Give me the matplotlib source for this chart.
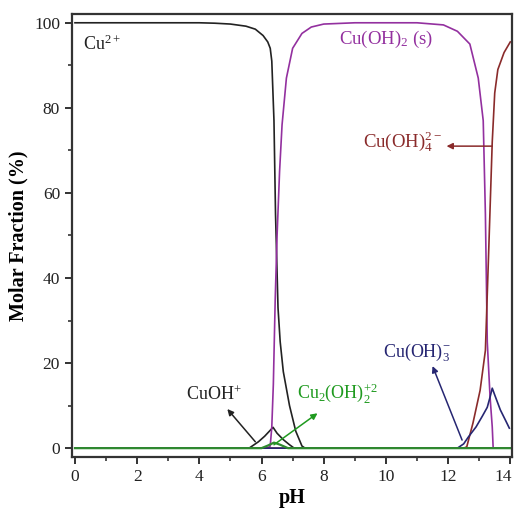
import matplotlib.pyplot as plt
import matplotlib.transforms as mtransforms
import numpy as np

plt.rcParams["font.family"] = ["Liberation Serif", "DejaVu Serif"]
plt.rcParams["mathtext.fontset"] = "custom"
plt.rcParams["mathtext.rm"] = "Liberation Serif"
plt.rcParams["mathtext.it"] = "Liberation Serif:italic"
plt.rcParams["mathtext.bf"] = "Liberation Serif:bold"

# values (pH, molar fraction %)
cu_ph = [0, 4.0, 4.5, 5.0, 5.5, 5.8, 6.05, 6.2, 6.28, 6.33, 6.36,
         6.4, 6.45, 6.53, 6.6, 6.7, 6.9, 7.1, 7.3, 7.4, 14]
cu_val = [100, 100, 99.9, 99.7, 99.2, 98.5, 97, 95.5, 94, 91, 85,
          77, 55, 33, 25, 18, 10, 4, 0.5, 0, 0]

cuoh_ph = [0, 5.6, 5.9, 6.1, 6.37, 6.5, 6.7, 6.9, 7.05, 14]
cuoh_val = [0, 0, 1.5, 2.8, 4.9, 3.5, 2.0, 0.8, 0, 0]

cu2oh2_ph = [0, 6.0, 6.2, 6.4, 6.6, 6.85, 14]
cu2oh2_val = [0, 0, 0.6, 1.3, 0.8, 0, 0]

cuoh2_ph = [0, 6.2, 6.28, 6.33, 6.38, 6.44, 6.5, 6.58, 6.66, 6.8,
            7.0, 7.3, 7.6, 8.0, 9.0, 11.0, 11.85, 12.3, 12.7, 12.97,
            13.13, 13.2, 13.26, 13.35, 13.42, 13.45, 14]
cuoh2_val = [0, 0, 0.5, 5, 15, 35, 50, 65, 76, 87,
             94, 97.5, 99, 99.7, 100, 100, 99.5, 98, 95, 87,
             77, 55, 25, 12, 5, 0, 0]

cuoh3_ph = [0, 12.3, 12.5, 12.65, 12.9, 13.1, 13.26, 13.35, 13.42,
            13.5, 13.68, 13.85, 13.97]
cuoh3_val = [0, 0, 1.0, 2.6, 5.0, 7.5, 9.6, 12, 14.1,
             12.5, 9.0, 6.5, 4.7]

cuoh4_ph = [0, 12.5, 12.6, 12.8, 13.03, 13.2, 13.3, 13.42, 13.5,
            13.6, 13.8, 14.0]
cuoh4_val = [0, 0, 0.3, 5.9, 13.6, 23, 45, 72, 83.5,
             89, 93, 95.5]

black = "#222222"
purple = "#93309f"
brown = "#8a2b2b"
navy = "#262672"
green = "#2f8a2f"
green_txt = "#1f9a1f"

fig = plt.figure(figsize=(5.17, 5.13), dpi=100)
ax = fig.add_axes([0.139, 0.109, 0.851, 0.864])

ax.plot(cu_ph, cu_val, color=black, linewidth=1.2)
ax.plot(cuoh_ph, cuoh_val, color=black, linewidth=1.2)
ax.plot(cuoh2_ph, cuoh2_val, color=purple, linewidth=1.2)
ax.plot(cuoh4_ph, cuoh4_val, color=brown, linewidth=1.2)
ax.plot(cuoh3_ph, cuoh3_val, color=navy, linewidth=1.2)
ax.plot(cu2oh2_ph, cu2oh2_val, color=green, linewidth=1.6)

ax.set_xlim(-0.1, 14.05)
ax.set_ylim(-2.1, 102.1)
ax.set_xticks(np.arange(0, 15, 2))
ax.set_xticks(np.arange(1, 14, 2), minor=True)
ax.set_yticks(np.arange(0, 101, 20))
ax.set_yticks(np.arange(10, 100, 20), minor=True)
ax.tick_params(which="major", direction="out", length=5, width=1.3,
               labelsize=12.5, colors="#222222")
ax.tick_params(which="minor", direction="out", length=3, width=1.1,
               colors="#222222")
for s in ax.spines.values():
    s.set_linewidth(1.6)
    s.set_color("#333333")

# last x label sits on the figure edge, nudge it in a little
last = ax.get_xticklabels()[-1]
last.set_transform(last.get_transform() + mtransforms.ScaledTranslation(
    -0.07, 0, fig.dpi_scale_trans))

ax.set_xlabel("pH", fontsize=14.5, fontweight="bold", labelpad=2)
ax.set_ylabel("Molar Fraction (%)", fontsize=14.5, fontweight="bold",
              labelpad=4)

arrow = dict(lw=1.1, mutation_scale=9, shrinkA=0, shrinkB=0)

# species labels
ax.text(0.25, 95, r"Cu$^{2+}$", fontsize=13, color=black,
        ha="left", va="center")
ax.text(10.0, 96, r"Cu(OH)$_2$ (s)", fontsize=13.5, color=purple,
        ha="center", va="center")

ax.text(11.8, 72, r"Cu(OH)$_4^{2-}$", fontsize=13.5, color=brown,
        ha="right", va="center")
ax.annotate("", xy=(11.95, 71), xytext=(13.42, 71),
            arrowprops=dict(arrowstyle="-|>", color=brown, **arrow))

ax.text(4.48, 12.5, r"CuOH$^{+}$", fontsize=13, color=black,
        ha="center", va="center")
ax.annotate("", xy=(4.9, 9.2), xytext=(5.8, 1.5),
            arrowprops=dict(arrowstyle="-|>", color=black, **arrow))

ax.text(7.15, 13, r"Cu$_2$(OH)$_2^{+2}$", fontsize=13, color=green_txt,
        ha="left", va="center")
ax.annotate("", xy=(7.8, 8.2), xytext=(6.4, 0.8),
            arrowprops=dict(arrowstyle="-|>", color=green_txt, **arrow))

ax.text(10.98, 22.6, r"Cu(OH)$_3^{-}$", fontsize=13, color=navy,
        ha="center", va="center")
ax.annotate("", xy=(11.5, 19.3), xytext=(12.45, 1.9),
            arrowprops=dict(arrowstyle="-|>", color=navy, **arrow))

plt.savefig("out.png", dpi=100)
